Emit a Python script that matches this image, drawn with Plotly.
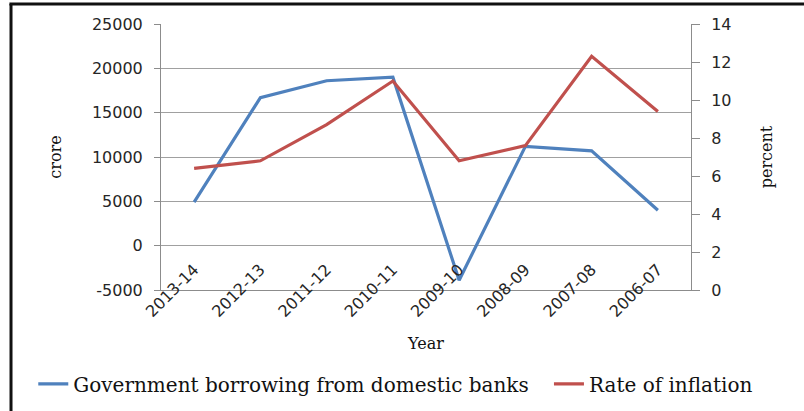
import plotly.graph_objects as go

years = ["2013-14", "2012-13", "2011-12", "2010-11", "2009-10", "2008-09", "2007-08", "2006-07"]
borrowing = [4900, 16700, 18600, 19000, -3900, 11200, 10700, 4000]
inflation = [6.4, 6.8, 8.7, 11.0, 6.8, 7.6, 12.3, 9.4]
left_ticks = [-5000, 0, 5000, 10000, 15000, 20000, 25000]
left_labels = ["-5000", "0", "5000", "10000", "15000", "20000", "25000"]

fig = go.Figure()
fig.add_trace(go.Scatter(x=years, y=borrowing, mode="lines", name="Government borrowing from domestic banks",
                         line=dict(color="#4F81BD", width=3.2), yaxis="y", legend="legend"))
fig.add_trace(go.Scatter(x=years, y=inflation, mode="lines", name="Rate of inflation",
                         line=dict(color="#C0504D", width=3.2), yaxis="y2", legend="legend2"))

tickfont = dict(family="DejaVu Sans", size=16, color="#262626")
serif = "DejaVu Serif"
legfont = dict(family=serif, size=20, color="#111111")

fig.update_layout(
    width=804, height=411,
    margin=dict(l=161, r=113, t=24, b=121, autoexpand=False),
    paper_bgcolor="white", plot_bgcolor="white",
    showlegend=True,
    legend=dict(orientation="h", x=-0.241, xanchor="left", y=-0.353, yanchor="middle",
                font=legfont, bgcolor="rgba(0,0,0,0)"),
    legend2=dict(orientation="h", x=0.732, xanchor="left", y=-0.353, yanchor="middle",
                 font=legfont, bgcolor="rgba(0,0,0,0)"),
    xaxis=dict(type="category", range=[-0.5, 7.5], showgrid=False, showline=True, linecolor="#8c8c8c",
               linewidth=1, ticks="", tickangle=-45, tickfont=tickfont, ticklabelstandoff=-37,
               title=dict(text="Year", font=dict(family=serif, size=16, color="#111111"), standoff=17),
               automargin=False),
    yaxis=dict(range=[-5000, 25000], tickmode="array", tickvals=left_ticks, ticktext=left_labels,
               showgrid=True, gridcolor="#a0a0a0", gridwidth=1,
               showline=True, linecolor="#8c8c8c", ticks="outside", ticklen=6, tickcolor="#8c8c8c",
               tickfont=tickfont, zeroline=False, automargin=False, ticklabelstandoff=8,
               title=dict(text="crore", font=dict(family=serif, size=16, color="#111111"), standoff=26)),
    yaxis2=dict(range=[0, 14], dtick=2, overlaying="y", side="right", showgrid=False,
                showline=True, linecolor="#8c8c8c", ticks="outside", ticklen=8, tickcolor="#8c8c8c",
                tickfont=tickfont, zeroline=False, automargin=False, ticklabelstandoff=8,
                title=dict(text="percent", font=dict(family=serif, size=16, color="#111111"), standoff=30)),
    shapes=[
        dict(type="line", xref="paper", yref="paper", x0=-0.283, x1=-0.283, y0=1.0752, y1=-0.46,
             line=dict(color="#111111", width=3)),
        dict(type="line", xref="paper", yref="paper", x0=-0.286, x1=1.22, y0=1.0752, y1=1.0752,
             line=dict(color="#111111", width=3)),
    ],
)

fig.write_html("out.html", config={"displayModeBar": False},
               post_script="document.body.style.margin='0';document.body.style.overflow='hidden';")
